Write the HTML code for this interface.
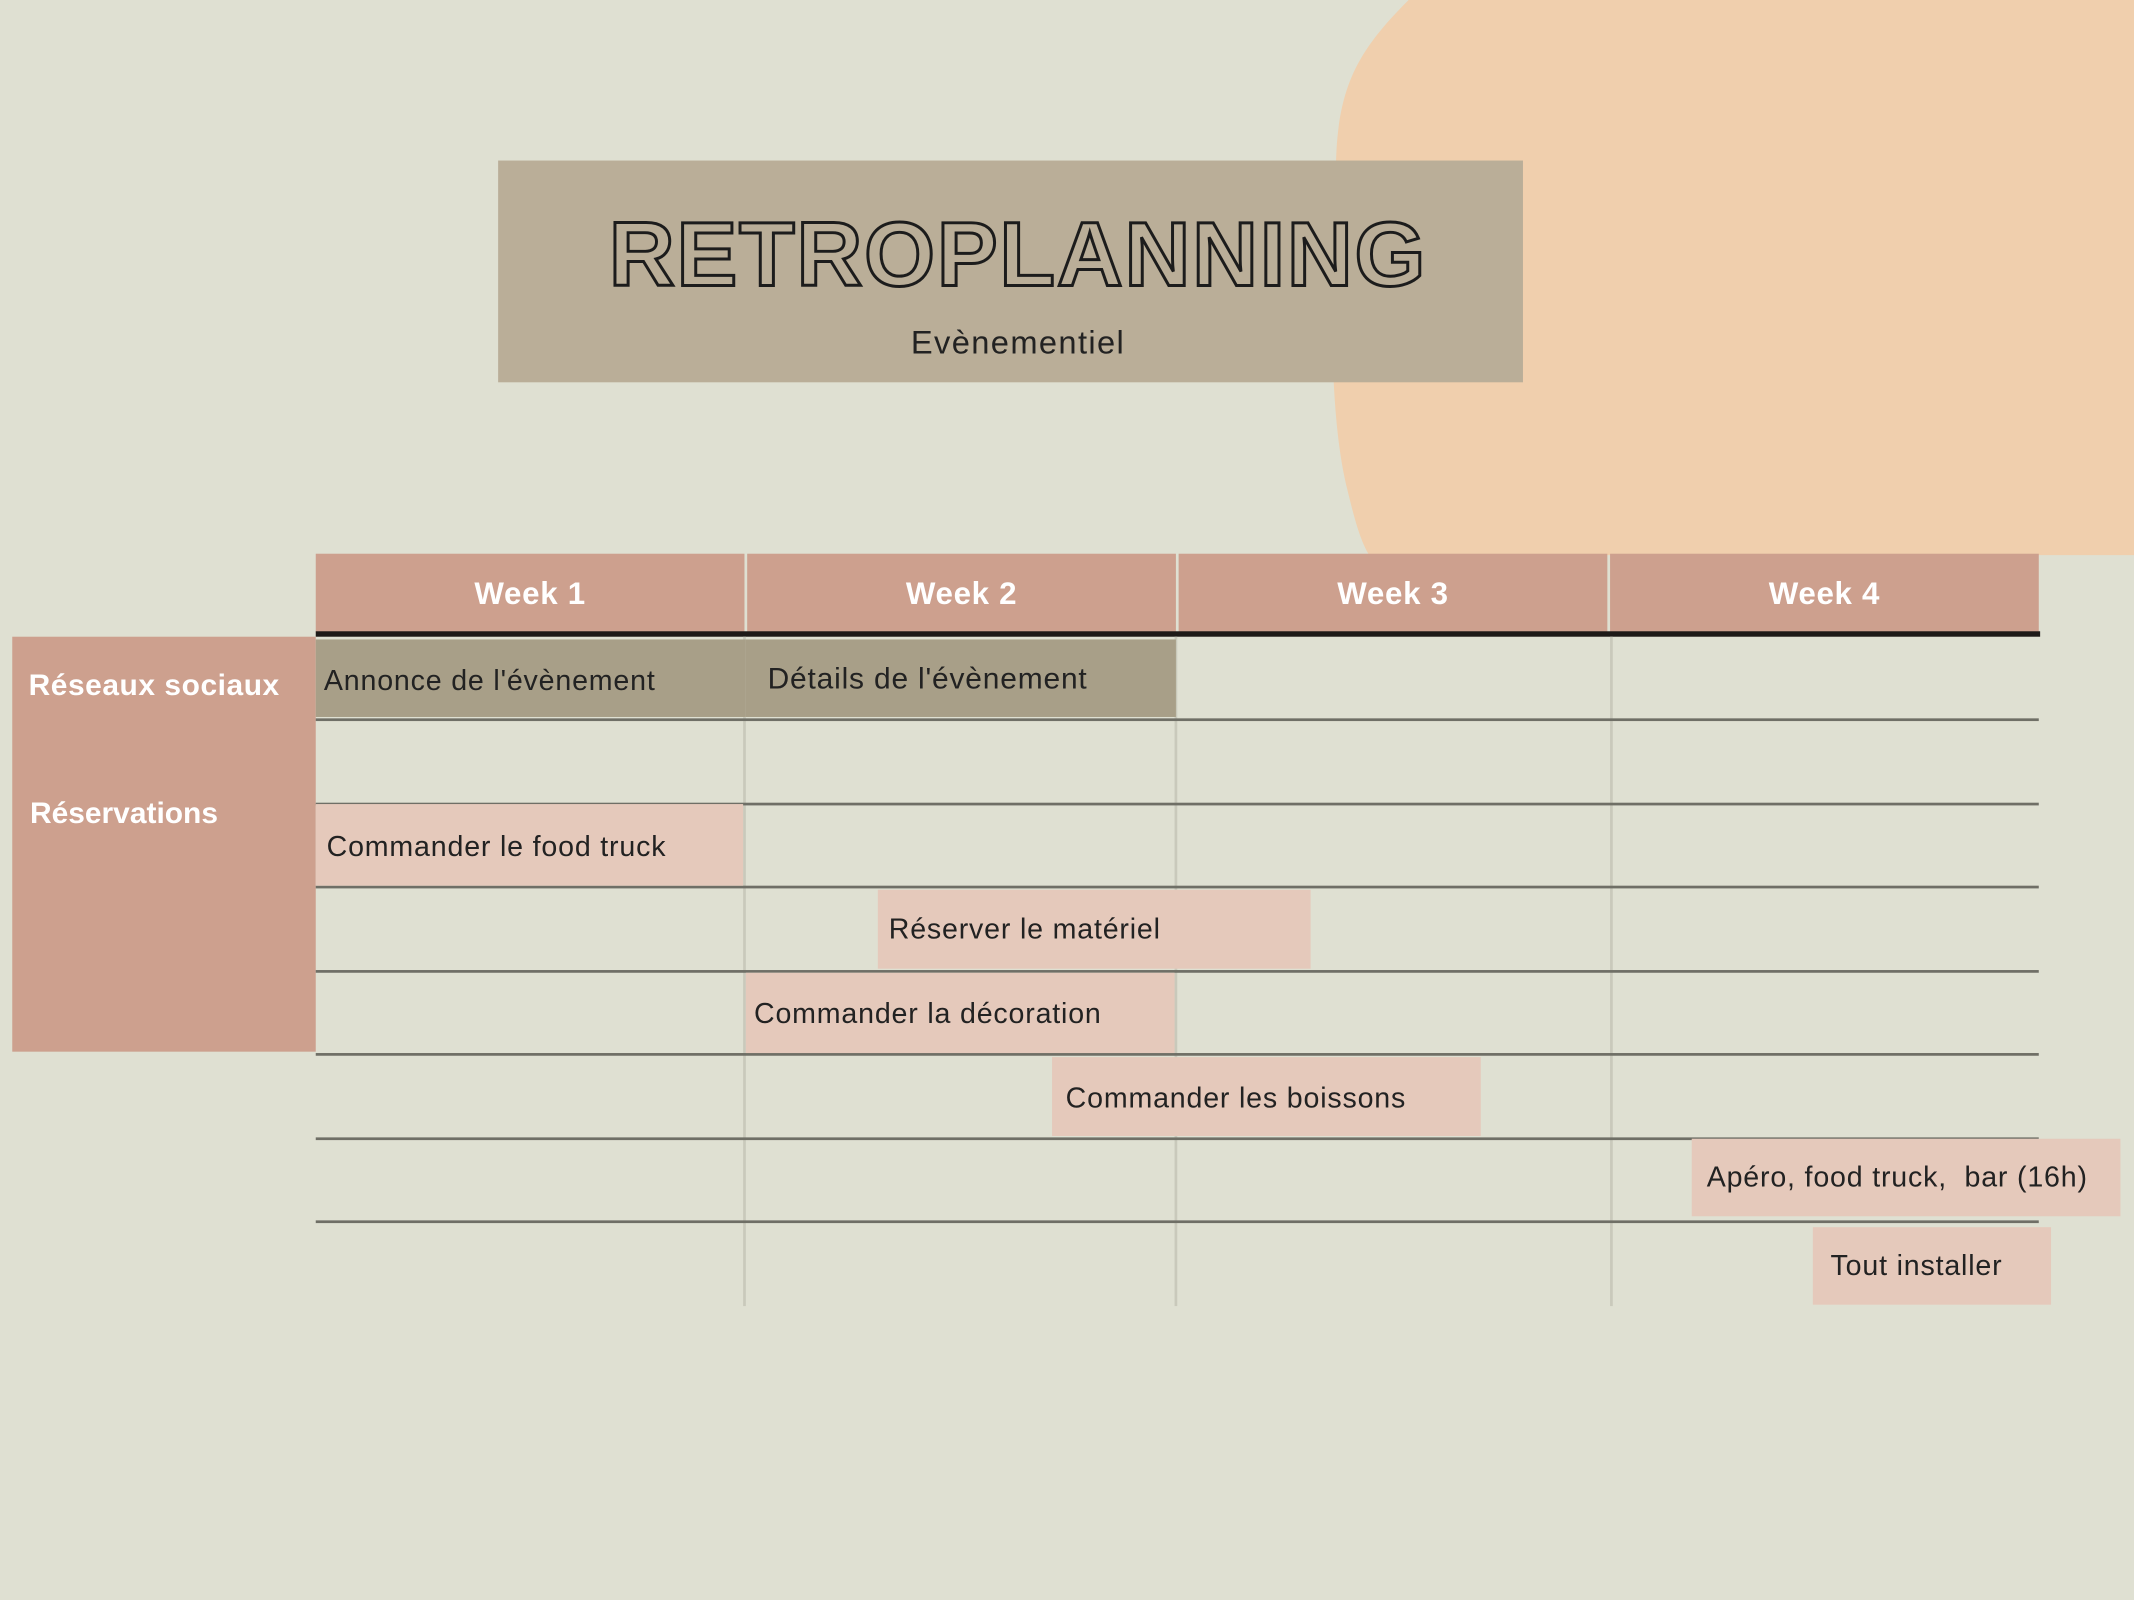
<!DOCTYPE html>
<html><head><meta charset="utf-8"><style>
html,body{margin:0;padding:0;width:2134px;height:1600px;overflow:hidden;background:#dfe0d2;}
#s{position:absolute;left:0;top:0;width:1568px;height:1176px;transform:scale(1.361,1.3605);transform-origin:0 0;font-family:"Liberation Sans",sans-serif;}
.a{position:absolute;box-sizing:border-box;}
.hl{position:absolute;height:1.5px;background:#6f6f66;left:232px;width:1266px;}
.vl{position:absolute;width:2px;background:#c9c9bb;top:468px;height:492px;}
.bar{position:absolute;box-sizing:border-box;background:#e5c9bb;font-size:21px;color:#222;letter-spacing:0.6px;display:flex;align-items:center;white-space:nowrap;}
.hd{position:absolute;top:407px;height:58px;background:#cda08e;color:#fff;font-weight:bold;font-size:23px;display:flex;align-items:center;justify-content:center;letter-spacing:0.5px;}
</style></head><body><div id="s">
<svg class="a" style="left:0;top:0" width="1568" height="410"><path d="M1035 0 C1000 35 985 60 982 110 C978 200 975 300 990 360 C996 385 1000 398 1006 408 L1568 408 L1568 0 Z" fill="#f0cfad"/></svg>
<div class="a" style="left:366px;top:118px;width:753px;height:163px;background:#baae98"></div>
<div class="a" style="left:366px;top:150px;width:764px;text-align:center;font-size:67px;font-weight:bold;color:transparent;-webkit-text-stroke:2.2px #1c1c1c;letter-spacing:1.3px;line-height:76px">RETROPLANNING</div>
<div class="a" style="left:366px;top:239px;width:764px;text-align:center;font-size:24px;color:#222;letter-spacing:1px">Evènementiel</div>
<div class="hd" style="left:232px;width:315px">Week 1</div>
<div class="hd" style="left:549px;width:315px">Week 2</div>
<div class="hd" style="left:866px;width:315px">Week 3</div>
<div class="hd" style="left:1183px;width:315px">Week 4</div>
<div class="a" style="left:232px;top:464px;width:1267px;height:4px;background:#1e1a18"></div>
<div class="a" style="left:9px;top:468px;width:223px;height:305px;background:#cda08e"></div>
<div class="a" style="left:21px;top:491px;color:#fff;font-weight:bold;font-size:22px;letter-spacing:0.4px">Réseaux sociaux</div>
<div class="a" style="left:22px;top:585px;color:#fff;font-weight:bold;font-size:22px">Réservations</div>
<div class="vl" style="left:546px"></div><div class="vl" style="left:863px"></div><div class="vl" style="left:1183px"></div>
<div class="hl" style="top:528px"></div><div class="hl" style="top:590px"></div><div class="hl" style="top:651px"></div><div class="hl" style="top:713px"></div><div class="hl" style="top:774px"></div><div class="hl" style="top:836px"></div><div class="hl" style="top:897px"></div>
<div class="bar" style="left:232px;top:470px;width:316px;height:57px;background:#a89f88;padding-left:6px;padding-top:4px">Annonce de l'évènement</div>
<div class="bar" style="left:548px;top:470px;width:316px;height:57px;background:#a89f88;padding-left:16px;font-size:22px">Détails de l'évènement</div>
<div class="bar" style="left:232px;top:591px;width:314px;height:60px;padding-left:8px;padding-top:4px">Commander le food truck</div>
<div class="bar" style="left:645px;top:654px;width:318px;height:58px;padding-left:8px;padding-top:2px">Réserver le matériel</div>
<div class="bar" style="left:548px;top:715px;width:315px;height:59px;padding-left:6px;padding-top:2px">Commander la décoration</div>
<div class="bar" style="left:773px;top:777px;width:315px;height:58px;padding-left:10px;padding-top:4px">Commander les boissons</div>
<div class="bar" style="left:1243px;top:837px;width:315px;height:57px;padding-left:11px">Apéro, food truck,&nbsp; bar (16h)</div>
<div class="bar" style="left:1332px;top:902px;width:175px;height:57px;padding-left:13px">Tout installer</div>
</div></body></html>
